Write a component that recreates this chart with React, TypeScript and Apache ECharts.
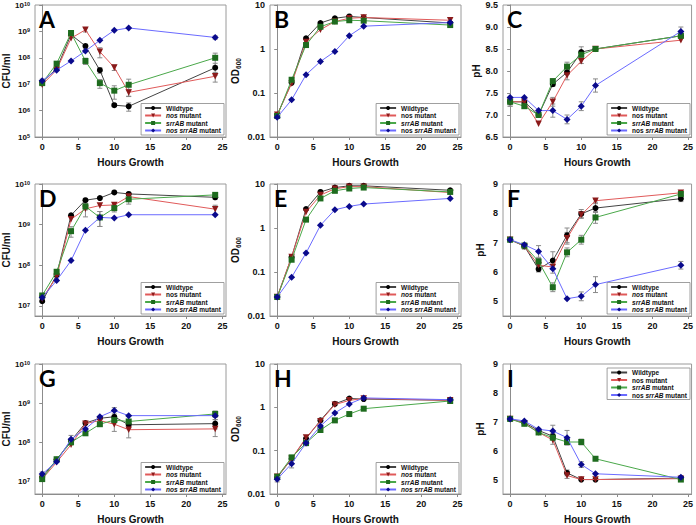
import React, { useEffect, useRef } from 'react';
import * as echarts from 'echarts';

const hours = [0, 2, 4, 6, 8, 10, 12, 24];
const seriesNames = ['Wildtype', 'nos mutant', 'srrAB mutant', 'nos srrAB mutant'];
const panelLetters = ['A', 'B', 'C', 'D', 'E', 'F', 'G', 'H', 'I'];
const xTickLabels = [0, 5, 10, 15, 20, 25];

// Panel A – CFU/ml
const aWildtype = [1.2e7, 3.9e7, 7.5e8, 2.8e8, 3.4e7, 1.6e6, 1.45e6, 4.2e7];
const aNos = [9.5e6, 3.5e7, 5.5e8, 1.15e9, 1.7e8, 4.3e7, 4.9e6, 2.0e7];
const aSrrAB = [1.1e7, 6.0e7, 8.7e8, 7.6e7, 1.1e7, 5.7e6, 9.5e6, 1.0e8];
const aNosSrrAB = [1.35e7, 3.4e7, 7.6e7, 1.8e8, 4.6e8, 1.1e9, 1.35e9, 5.9e8];
const aErrWildtype = [0, 0, 0, 5e7, 8e6, 2e5, 5e5, 2e7];
const aErrNos = [0, 0, 0, 2e8, 7e7, 1e7, 1.5e6, 8e6];
const aErrSrrAB = [0, 0, 0, 2e7, 4e6, 3e6, 6e6, 5e7];
const aErrNosSrrAB = [2e6, 0, 0, 0, 0, 0, 0, 8e7];

// Panel B – OD600
const bWildtype = [0.032, 0.17, 1.75, 3.9, 5.0, 5.5, 5.2, 3.9];
const bNos = [0.032, 0.165, 1.45, 2.75, 4.2, 5.0, 5.2, 4.5];
const bSrrAB = [0.03, 0.2, 1.23, 3.2, 4.2, 4.5, 4.4, 3.5];
const bNosSrrAB = [0.028, 0.07, 0.26, 0.52, 0.88, 2.0, 3.3, 4.0];

// Panel C – pH
const cWildtype = [7.3, 7.3, 7.0, 7.7, 7.97, 8.43, 8.5, 8.8];
const cNos = [7.3, 7.3, 6.8, 7.3, 7.9, 8.22, 8.5, 8.7];
const cSrrAB = [7.3, 7.2, 7.0, 7.77, 8.1, 8.37, 8.5, 8.8];
const cNosSrrAB = [7.4, 7.4, 7.1, 7.1, 6.9, 7.2, 7.67, 8.9];
const cErrWildtype = [0.1, 0.05, 0.05, 0.05, 0.05, 0.12, 0, 0.05];
const cErrNos = [0, 0, 0, 0.1, 0.1, 0.05, 0, 0];
const cErrSrrAB = [0.1, 0.05, 0.05, 0.05, 0.1, 0.05, 0, 0.05];
const cErrNosSrrAB = [0, 0, 0, 0.15, 0.1, 0.1, 0.15, 0.1];

// Panel D – CFU/ml
const dWildtype = [1.3e7, 5.7e7, 1.7e9, 4.0e9, 4.5e9, 6.2e9, 5.7e9, 4.7e9];
const dNos = [1.5e7, 5.2e7, 1.35e9, 2.45e9, 2.95e9, 3.05e9, 4.9e9, 2.4e9];
const dSrrAB = [1.8e7, 6.9e7, 6.9e8, 2.8e9, 1.5e9, 2.55e9, 4.2e9, 5.4e9];
const dNosSrrAB = [1.6e7, 4.2e7, 1.3e8, 7.3e8, 1.5e9, 1.45e9, 1.75e9, 1.75e9];
const dErrWildtype = [0, 0, 0, 0, 0, 0, 0, 5e8];
const dErrNos = [0, 0, 0, 9e8, 0, 0, 1e9, 6e8];
const dErrSrrAB = [0, 0, 2e8, 5e8, 6e8, 5e8, 1e9, 5e8];
const dErrNosSrrAB = [0, 0, 0, 0, 6e8, 0, 0, 0];

// Panel E – OD600
const eWildtype = [0.027, 0.22, 2.7, 6.6, 8.3, 9.1, 9.1, 7.2];
const eNos = [0.027, 0.22, 2.3, 5.6, 7.8, 8.7, 8.7, 6.4];
const eSrrAB = [0.027, 0.19, 1.55, 4.7, 7.0, 7.9, 8.3, 6.6];
const eNosSrrAB = [0.027, 0.076, 0.27, 1.15, 2.6, 3.1, 3.5, 4.7];

// Panel F – pH
const fWildtype = [7.1, 6.88, 6.1, 6.39, 7.25, 7.98, 8.18, 8.5];
const fNos = [7.1, 6.88, 6.23, 6.17, 7.15, 7.95, 8.43, 8.7];
const fSrrAB = [7.1, 6.9, 6.36, 5.48, 6.67, 7.1, 7.86, 8.66];
const fNosSrrAB = [7.1, 6.93, 6.7, 6.11, 5.09, 5.17, 5.57, 6.23];
const fErrWildtype = [0, 0, 0.1, 0.3, 0.25, 0.15, 0.15, 0.1];
const fErrNos = [0, 0.1, 0.2, 0, 0.2, 0.1, 0.05, 0];
const fErrSrrAB = [0, 0, 0.1, 0.15, 0.15, 0.15, 0.2, 0.05];
const fErrNosSrrAB = [0, 0, 0.2, 0.15, 0, 0.15, 0.27, 0.13];

// Panel G – CFU/ml
const gWildtype = [1.3e7, 3.6e7, 1.1e8, 3.1e8, 4.1e8, 4.5e8, 2.8e8, 3.0e8];
const gNos = [1.15e7, 3.1e7, 8.7e7, 3.0e8, 3.6e8, 2.9e8, 2.1e8, 2.2e8];
const gSrrAB = [1.15e7, 3.7e7, 1.0e8, 1.7e8, 2.9e8, 3.7e8, 3.4e8, 5.3e8];
const gNosSrrAB = [1.55e7, 3.2e7, 1.2e8, 2.2e8, 4.5e8, 6.5e8, 4.8e8, 4.8e8];
const gErrWildtype = [0, 0, 0, 0, 0, 0, 5e7, 8e7];
const gErrNos = [0, 0, 0, 0, 0, 1e8, 8e7, 8e7];
const gErrSrrAB = [0, 0, 0, 0, 0, 0, 0, 1e8];
const gErrNosSrrAB = [2e6, 0, 3e7, 0, 0, 1.2e8, 0, 1e8];

// Panel H – OD600
const hWildtype = [0.024, 0.065, 0.19, 0.5, 1.2, 1.6, 1.55, 1.45];
const hNos = [0.025, 0.065, 0.2, 0.48, 1.15, 1.45, 1.6, 1.45];
const hSrrAB = [0.025, 0.07, 0.15, 0.3, 0.5, 0.7, 0.93, 1.4];
const hNosSrrAB = [0.022, 0.05, 0.15, 0.37, 0.74, 1.2, 1.65, 1.5];
const hErrNosSrrAB = [0.003, 0.01, 0.02, 0, 0, 0, 0, 0];

// Panel I – pH
const iWildtype = [7.1, 6.97, 6.7, 6.5, 5.23, 5.0, 5.0, 5.05];
const iNos = [7.1, 6.95, 6.63, 6.37, 5.14, 5.0, 5.0, 5.03];
const iSrrAB = [7.1, 6.93, 6.63, 6.45, 6.3, 6.3, 5.72, 5.0];
const iNosSrrAB = [7.1, 7.03, 6.74, 6.68, 6.45, 5.52, 5.2, 5.08];
const iErrWildtype = [0, 0, 0, 0.1, 0.1, 0, 0, 0];
const iErrNos = [0, 0, 0, 0.15, 0.1, 0, 0, 0];
const iErrSrrAB = [0, 0, 0, 0, 0.1, 0.1, 0, 0];
const iErrNosSrrAB = [0, 0, 0, 0.2, 0.25, 0.1, 0, 0];

const panelValues = [
  [aWildtype, aNos, aSrrAB, aNosSrrAB],
  [bWildtype, bNos, bSrrAB, bNosSrrAB],
  [cWildtype, cNos, cSrrAB, cNosSrrAB],
  [dWildtype, dNos, dSrrAB, dNosSrrAB],
  [eWildtype, eNos, eSrrAB, eNosSrrAB],
  [fWildtype, fNos, fSrrAB, fNosSrrAB],
  [gWildtype, gNos, gSrrAB, gNosSrrAB],
  [hWildtype, hNos, hSrrAB, hNosSrrAB],
  [iWildtype, iNos, iSrrAB, iNosSrrAB],
];
const panelErrors = [
  [aErrWildtype, aErrNos, aErrSrrAB, aErrNosSrrAB],
  [],
  [cErrWildtype, cErrNos, cErrSrrAB, cErrNosSrrAB],
  [dErrWildtype, dErrNos, dErrSrrAB, dErrNosSrrAB],
  [],
  [fErrWildtype, fErrNos, fErrSrrAB, fErrNosSrrAB],
  [gErrWildtype, gErrNos, gErrSrrAB, gErrNosSrrAB],
  [null, null, null, hErrNosSrrAB],
  [iErrWildtype, iErrNos, iErrSrrAB, iErrNosSrrAB],
];

// layout / style (not data)
const FONT = '"Liberation Sans", Arial, sans-serif';
const colLeft = [35, 270, 503];
const colWidth = [191, 191, 189];
const rowTop = [5, 184, 364];
const rowHeight = 132;
const yNameGap = [24, 28, 18];
const markerColors = ['#000000', '#8b1a1a', '#1e6b1e', '#0a0a8c'];
const lineColors = ['#444444', '#e05a5a', '#4aa84a', '#6b6bff'];
const symbols = ['circle', 'triangle', 'rect', 'diamond'];
const symbolRotates = [0, 180, 0, 0];
const symbolSizes = [6, 6.5, 6, 7];
const nosItalic = [true, false, false, false, true, true, true, true, false];

type AxisKind = 'cfu' | 'od' | 'ph1' | 'ph2';
const panelKind: AxisKind[] = ['cfu', 'od', 'ph1', 'cfu', 'od', 'ph2', 'cfu', 'od', 'ph2'];
const cfuMin = [1e5, 0, 0, Math.pow(10, 6.75), 0, 0, Math.pow(10, 6.68)];

function yAxisFor(p: number) {
  const kind = panelKind[p];
  const col = p % 3;
  const base: any = {
    gridIndex: p,
    nameLocation: 'middle',
    nameGap: yNameGap[col],
    nameTextStyle: { fontSize: 10, fontWeight: 'bold', fontFamily: FONT, color: '#111' },
    axisLine: { show: true, lineStyle: { color: '#8c8c8c', width: 1 } },
    axisTick: { show: true, length: 3, lineStyle: { color: '#8c8c8c' } },
    splitLine: { show: false },
    axisLabel: { fontSize: 9, fontWeight: 'bold', fontFamily: FONT, color: '#111', margin: 5 },
  };
  if (kind === 'cfu') {
    base.type = 'log';
    base.logBase = 10;
    base.min = cfuMin[p];
    base.max = 1e10;
    base.name = 'CFU/ml';
    base.axisLabel.formatter = (v: number) => {
      const l = Math.log10(v);
      const e = Math.round(l);
      if (Math.abs(l - e) > 1e-6) return '';
      return '10{sup|' + e + '}';
    };
    base.axisLabel.fontSize = 8;
    base.axisLabel.rich = {
      sup: { fontSize: 5.5, fontWeight: 'bold', fontFamily: FONT, color: '#111', verticalAlign: 'top', lineHeight: 8, padding: [0, 0, 4, 0] },
    };
  } else if (kind === 'od') {
    base.type = 'log';
    base.logBase = 10;
    base.min = 0.01;
    base.max = 10;
    base.name = 'OD{sub|600}';
    base.nameTextStyle.rich = {
      sub: { fontSize: 6.5, fontWeight: 'bold', fontFamily: FONT, color: '#111', verticalAlign: 'bottom', padding: [6, 0, 0, 0] },
    };
    base.axisLabel.formatter = (v: number) => {
      const l = Math.log10(v);
      if (Math.abs(l - Math.round(l)) > 1e-6) return '';
      return String(Number(v.toPrecision(1)));
    };
  } else if (kind === 'ph1') {
    base.type = 'value';
    base.min = 6.5;
    base.max = 9.5;
    base.interval = 0.5;
    base.name = 'pH';
    base.axisLabel.formatter = (v: number) => v.toFixed(1);
  } else {
    base.type = 'value';
    base.min = 4.5;
    base.max = 9;
    base.name = 'pH';
    base.axisLabel.formatter = (v: number) => (Math.abs(v - Math.round(v)) < 1e-6 ? String(Math.round(v)) : '');
    base.axisTick.show = false;
  }
  return base;
}

function legendFormatter(p: number) {
  return (name: string) => {
    const nos = nosItalic[p] ? '{i|nos}' : 'nos';
    if (name === 'Wildtype') return 'Wildtype';
    if (name === 'nos mutant') return nos + ' mutant';
    if (name === 'srrAB mutant') return '{i|srrAB} mutant';
    return nos + ' {i|srrAB} mutant';
  };
}

export default function App() {
  const ref = useRef<HTMLDivElement>(null);
  useEffect(() => {
    if (!ref.current) return;
    const chart = echarts.init(ref.current, undefined, { renderer: 'svg' });
    const grids: any[] = [];
    const xAxes: any[] = [];
    const yAxes: any[] = [];
    const series: any[] = [];
    const legends: any[] = [];
    const graphics: any[] = [];
    for (let p = 0; p < 9; p++) {
      const col = p % 3;
      const row = Math.floor(p / 3);
      const left = colLeft[col];
      const top = rowTop[row];
      const width = colWidth[col];
      grids.push({ left, top, width, height: rowHeight, show: true, borderColor: '#9a9a9a', borderWidth: 1, backgroundColor: 'transparent' });
      xAxes.push({
        type: 'value',
        gridIndex: p,
        min: -1,
        max: 25.5,
        name: 'Hours Growth',
        nameLocation: 'middle',
        nameGap: 20,
        nameTextStyle: { fontSize: 10, fontWeight: 'bold', fontFamily: FONT, color: '#111' },
        axisLine: { show: true, onZero: false, lineStyle: { color: '#8c8c8c' } },
        axisTick: { show: true, length: 3, customValues: xTickLabels, lineStyle: { color: '#8c8c8c' } },
        axisLabel: { customValues: xTickLabels, fontSize: 9, fontWeight: 'bold', fontFamily: FONT, color: '#111', margin: 5 },
        splitLine: { show: false },
      });
      yAxes.push(yAxisFor(p));
      const isLog = panelKind[p] === 'cfu' || panelKind[p] === 'od';
      const errData: any[] = [];
      const errs = panelErrors[p];
      for (let s = 0; s < 4; s++) {
        const vals = panelValues[p][s];
        const e = errs[s];
        if (e) {
          hours.forEach((h, i) => {
            if (e[i] > 0) errData.push([h, vals[i], e[i]]);
          });
        }
      }
      series.push({
        type: 'custom',
        name: 'err' + p,
        xAxisIndex: p,
        yAxisIndex: p,
        z: 1,
        silent: true,
        data: errData,
        renderItem: (params: any, api: any) => {
          const x = api.value(0);
          const y = api.value(1);
          const e = api.value(2);
          const lo = isLog ? Math.max(y - e, y * 0.25) : y - e;
          const a = api.coord([x, y + e]);
          const b = api.coord([x, lo]);
          const w = 2.5;
          const st = () => ({ stroke: '#8a8a8a', lineWidth: 1 });
          return {
            type: 'group',
            children: [
              { type: 'line', shape: { x1: a[0], y1: a[1], x2: b[0], y2: b[1] }, style: st() },
              { type: 'line', shape: { x1: a[0] - w, y1: a[1], x2: a[0] + w, y2: a[1] }, style: st() },
              { type: 'line', shape: { x1: b[0] - w, y1: b[1], x2: b[0] + w, y2: b[1] }, style: st() },
            ],
          };
        },
      });
      for (let s = 0; s < 4; s++) {
        series.push({
          type: 'line',
          name: seriesNames[s],
          xAxisIndex: p,
          yAxisIndex: p,
          z: 3 + s,
          data: hours.map((h, i) => [h, panelValues[p][s][i]]),
          symbol: symbols[s],
          symbolRotate: symbolRotates[s],
          symbolSize: symbolSizes[s],
          showAllSymbol: true,
          itemStyle: { color: markerColors[s], borderWidth: 0 },
          lineStyle: { color: lineColors[s], width: 1 },
          emphasis: { disabled: true },
        });
      }
      const legend: any = {
        orient: 'vertical',
        right: 696 - (left + width) + 2,
        data: seriesNames,
        itemWidth: 16,
        itemHeight: 5,
        itemGap: 0.5,
        padding: [1, 3, 1, 3],
        borderColor: '#888',
        borderWidth: 0.8,
        backgroundColor: '#fff',
        selectedMode: false,
        formatter: legendFormatter(p),
        textStyle: {
          fontSize: 6.5,
          lineHeight: 6.5,
          fontWeight: 'bold',
          fontFamily: FONT,
          color: '#111',
          rich: { i: { fontSize: 6.5, lineHeight: 6.5, fontStyle: 'italic', fontWeight: 'bold', fontFamily: FONT, color: '#111' } },
        },
      };
      if (p === 8) legend.top = top + 4;
      else legend.bottom = 525 - (top + rowHeight) + 2;
      legends.push(legend);
      graphics.push({
        type: 'text',
        left: left + 4,
        top: top + 2,
        z: 10,
        style: { text: panelLetters[p], font: 'bold 23px Lato, "Open Sans", sans-serif', fill: '#000' },
      });
    }
    chart.setOption({
      animation: false,
      backgroundColor: '#fff',
      grid: grids,
      xAxis: xAxes,
      yAxis: yAxes,
      legend: legends,
      series,
      graphic: graphics,
    });
    return () => chart.dispose();
  }, []);
  return <div ref={ref} style={{ position: 'absolute', left: 0, top: 0, width: 696, height: 525 }} />;
}
